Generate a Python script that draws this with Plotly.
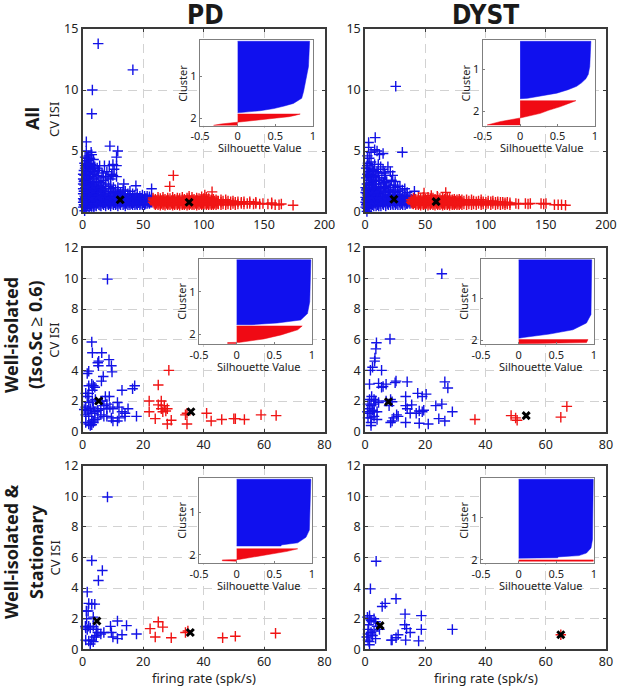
import plotly.graph_objects as go

W, H = 617, 687
OX, OY = 0, 0

# ---------- data: scatter panels (firing rate, CV ISI) ----------
PD_ALL_BLUE_COLS = {
 0.4:[.4,.8,1.1,1.5,1.9,2.3,2.7,3.1], 1.0:[.6,1.0,1.7,2.5], 1.6:[.1,.5,.9,1.3,1.7,2.2,2.6,3.0], 2.2:[.45,1.2,2.0], 2.9:[.3,.7,1.0,1.4,1.8,2.1,2.5,2.9,3.3],
 3.6:[.5,.85,1.6,2.3], 4.2:[.6,1.2,1.6,2.0,2.7], 5.3:[.4,.8,1.2,1.6,2.0,2.4,2.8,3.2], 6.0:[.6,1.0,1.8], 6.7:[.5,.9,1.3,1.7,2.1,2.5,2.9], 7.4:[.45,1.15,1.9], 8.1:[.7,1.1,1.5,2.2],
 8.7:[.5,.9,1.3], 9.3:[.4,.7,1.1,1.5,1.9,2.3,2.7], 10.2:[.55,1.0,1.7], 11.2:[.5,.9,1.2,1.6,2.0,2.4,2.8], 12.4:[.7,1.4,1.9], 13.4:[.6,1.0,1.4,1.8,2.2,2.5],
 14.3:[.55,1.1], 15.1:[.5,.8,1.2,1.6,2.0,2.4], 16.2:[.7,1.1,1.8], 17.3:[.6,1.0,1.3,1.7,2.1,2.6], 18.2:[.75,1.4], 19.0:[.5,.9,1.2,1.5,1.9,2.3],
 20.2:[.7,1.3], 21.3:[.6,.9,1.3,1.7,2.1], 22.2:[.7,1.0], 23.1:[.5,.8,1.1,1.5,1.9,2.2], 24.2:[.7,1.2], 25.4:[.6,1.0,1.3,1.6,2.0], 26.3:[.75,1.15],
 27.2:[.6,.9,1.2,1.5,1.8], 28.3:[.7,1.1], 29.1:[.5,.8,1.1,1.4,1.7,2.0], 30.2:[.7,1.0], 31.3:[.6,.9,1.2,1.6], 32.2:[.8,1.3],
 33.4:[.6,.9,1.2,1.5,1.8], 34.3:[.7,1.05], 35.2:[.5,.8,1.1,1.4,1.7], 36.3:[.7,1.0], 37.4:[.6,.9,1.2,1.5], 38.3:[.75,1.05], 39.1:[.6,.8,1.1,1.4,1.7],
 40.2:[.7,1.0], 41.3:[.6,.9,1.2,1.5], 42.2:[.75,1.05], 43.2:[.6,.8,1.1,1.4], 44.3:[.7,1.0], 45.1:[.6,.9,1.2,1.5], 46.2:[.75,1.05], 47.3:[.6,.8,1.0,1.3],
 48.2:[.7,1.1], 49.4:[.6,.9,1.1,1.4], 50.3:[.75,1.0], 51.2:[.6,.8,1.0,1.3], 52.1:[.7,1.1], 53.3:[.7,.9,1.1,1.3], 54.2:[.8,1.0], 55.2:[.7,.9,1.1,1.25],
 56.1:[.8,1.0], 57.1:[.8,.95,1.1],
}
PD_ALL_BLUE_EXTRA = [(12.8,13.8),(41.5,11.65),(8,10),(7.5,8.05),(3,5.75),(22.5,5.4),(29,5),(28,4.5),(3,5),(7,4.9),
 (2,4.5),(5,4.6),(7.5,4.7),(9,4.3),(2,3.8),(18,3.8),(22,3.8),(28,3.8),(25,3.9),(26,3.5),(5,3.7),(6,3.3),(10,3.3),
 (16,3.2),(24,3.1),(34,2.3),(44,2.15),(57,1.9),
 (1,3.4),(2,3.6),(3,3.7),(4,3.9),(5,4.2),(6,4.4),(6,4),(7,3.9),(8,3.6),(9,3.8),(3,4.2),(4,4.4),(1.5,4.0),(6.5,3.2),(8,3.1),
 (12,3),(13,3.4),(14,3.8),(20,3.3),(17,2.9),(21,2.9),(23,2.7),(25,3),(28,2.9),(12,3.6),(19,2.8),(7,3.5),(10,3.7)]
PD_ALL_RED_COLS = {
 58.2:[.8,1.0,1.15], 59.2:[.7,.95], 60.1:[.6,.85,1.05], 61.2:[.7,.95], 62.3:[.6,.8,1.0,1.2], 63.2:[.7,.95], 64.2:[.55,.85,1.1], 65.3:[.7,.95], 66.4:[.6,.8,1.0,1.2], 67.2:[.7,.95], 68.1:[.55,.85,1.05], 69.2:[.7,.95],
 70.3:[.6,.8,1.0,1.15], 71.2:[.7,.95], 72.2:[.6,.85,1.1], 73.3:[.7,.95], 74.4:[.55,.8,1.0,1.2], 75.2:[.7,.95], 76.1:[.6,.85,1.05], 77.2:[.7,.95], 78.3:[.6,.8,1.0,1.15], 79.2:[.7,.95], 80.2:[.55,.85,1.1], 81.3:[.7,.95],
 82.4:[.6,.8,1.0,1.2], 83.2:[.7,.95], 84.1:[.6,.85,1.05], 85.2:[.7,.95], 86.3:[.55,.8,1.0,1.15], 87.2:[.7,.95], 88.2:[.6,.85,1.1], 89.3:[.7,.95], 90.4:[.6,.8,1.0,1.2], 91.2:[.7,.95], 92.1:[.6,.85,1.05], 93.2:[.7,.95],
 94.3:[.55,.8,1.0,1.15], 95.2:[.7,.95], 96.2:[.6,.85,1.1], 97.3:[.7,.95], 98.4:[.6,.8,1.0,1.25], 99.2:[.7,.95], 100.1:[.6,.85,1.1], 101.2:[.7,.95], 102.3:[.6,.8,1.0,1.2], 103.2:[.7,.95], 104.2:[.6,.85,1.1], 105.3:[.7,.95],
 106.4:[.6,.8,1.0], 107.2:[.7,.9], 108.1:[.6,.85,1.05], 109.2:[.7,.9], 110.3:[.6,.8,1.0], 111.2:[.7,.9], 112.2:[.65,.9], 114.4:[.6,.8,1.0], 116.1:[.65,.9], 118.3:[.6,.8,1.0],
 120.2:[.65,.9], 122.4:[.6,.85], 124.3:[.7,.9], 126.2:[.6,.8], 128.4:[.65,.85], 131.2:[.7,.8], 133.4:[.65,.85], 136.1:[.7],
 138.2:[.7,.85], 141.3:[.65], 143.2:[.7,.8], 146.4:[.65], 149.1:[.7], 153.2:[.65], 156.3:[.65,.75], 159.2:[.6], 162.4:[.6],
 164.3:[.65],
}
PD_ALL_RED_EXTRA = [(75,3),(72,2.1),(107,1.65),(174,.55),(101,1.4),(88,1.3)]
PD_ALL_BLACK = [(31,1.0),(88,.8)]

DY_ALL_BLUE_COLS = {
 0.5:[.4,.8,1.2,1.6,2.0], 1.1:[.6,1.0,1.8], 1.6:[0.05,.3,.7,1.1,1.5,1.9,2.3], 2.2:[.5,.95,1.35], 2.8:[.4,.8,1.2,1.6,2.0,2.6,3.0], 3.4:[.6,1.0,1.8], 3.9:[.5,.9,1.3,1.7,2.2],
 4.5:[.75,1.15], 5.1:[.4,.7,1.1,1.5,1.9,2.4,2.8], 6.2:[.6,1.0,1.4,1.8], 7.3:[.5,.8,1.2,1.6,2.0,2.5,2.9], 8.4:[.7,1.1,1.5,1.9],
 9.2:[.5,.9,1.3,1.7,2.1,2.6], 10.3:[.6,1.0,1.5], 11.4:[.5,.8,1.2,1.6,2.0,2.8], 12.5:[.7,1.1,1.7], 13.2:[.5,.9,1.3,1.8,2.3],
 14.6:[.7,1.2], 15.3:[.6,1.0,1.4,1.9,2.4], 16.4:[.8,1.6], 17.2:[.5,.9,1.3,1.7,2.1], 18.5:[.7,1.1], 19.3:[.6,1.0,1.4,1.8],
 20.4:[.8,1.3], 21.2:[.6,.9,1.3,1.7,2.0], 22.6:[.7,1.1], 23.3:[.6,1.0,1.4,1.8], 24.5:[.8,1.2], 25.2:[.6,.9,1.3,1.6,2.0],
 26.4:[.7,1.1], 27.3:[.6,1.0,1.4,1.7], 28.5:[.8,1.2], 29.2:[.6,.9,1.3], 30.4:[.7,1.1], 31.3:[.6,1.0,1.4], 32.5:[.8,1.2],
 33.3:[.6,.9,1.3], 34.6:[.7,1.1], 35.2:[.7,1.0,1.3], 36.4:[.8,1.1], 37.3:[.7,.95,1.2], 38.4:[.8,1.05], 39.5:[.8,1.0],
}
DY_ALL_BLUE_EXTRA = [(25.5,10.3),(8.5,6.1),(3,5.7),(3,5.3),(8,5.1),(10,5),(5,4.9),(12,4.7),(15,4.8),(31,4.9),(2,4.6),
 (3.5,4.4),(2.5,4),(5,4.1),(8,3.9),(11,3.9),(13,3.7),(19,3.7),(15,3.5),(21,3.3),(6,3.5),(10,3.3),(4,3.6),(23,3),
 (25,2.5),(29,2.1),(33,1.9),(41,1.7),
 (1,2.8),(2,3.1),(3,3.3),(4,2.9),(5,3.1),(6,2.6),(9,3.0),(12,2.6),(14,2.8),(16,2.4),(18,2.5),(1,3.6),(2,3.8),(7,3.4),
 (11,3.2),(17,3),(22,2.6),(16,3.2),(24,2.2),(27,2.1),(31,1.8),(35,1.6),(20,2.2),(3,2.2),(6,2.2),(9,2.3)]
DY_ALL_RED_COLS = {
 38.3:[.8,1.0], 39.2:[.7,.9], 40.2:[.65,.9,1.15], 41.2:[.75,1.0], 42.1:[.6,.85,1.05], 43.2:[.7,.95], 44.3:[.6,.8,1.0,1.2], 45.2:[.7,.95], 46.2:[.55,.85,1.1], 47.3:[.7,.95], 48.4:[.6,.8,1.0,1.2], 49.2:[.7,.95],
 50.1:[.6,.85,1.05], 51.2:[.7,.95], 52.3:[.55,.8,1.0,1.2], 53.2:[.7,.95], 54.2:[.6,.85,1.1], 55.3:[.7,.95], 56.4:[.6,.8,1.0,1.15], 57.2:[.7,.95], 58.1:[.55,.85,1.05], 59.2:[.7,.95], 60.3:[.6,.8,1.0,1.2], 61.2:[.7,.95],
 62.2:[.6,.85,1.1], 63.3:[.7,.95], 64.4:[.55,.8,1.0,1.15], 65.2:[.7,.95], 66.1:[.6,.85,1.05], 67.2:[.7,.95], 68.3:[.6,.8,1.0,1.2], 69.2:[.7,.95], 70.2:[.55,.85,1.1], 71.3:[.7,.95], 72.4:[.6,.8,1.0], 73.2:[.7,.9],
 74.1:[.6,.85,1.05], 75.2:[.7,.9], 76.3:[.6,.8,1.0], 77.2:[.7,.9], 78.2:[.6,.85,1.05], 79.3:[.7,.9], 80.4:[.6,.8,1.0], 82.1:[.65,.9], 84.3:[.6,.8,1.0], 86.2:[.65,.9],
 88.4:[.6,.8,1.0], 90.1:[.65,.9], 92.3:[.6,.85], 94.2:[.7,.9], 96.4:[.6,.8,1.0], 98.1:[.65,.85], 100.3:[.6,.8], 102.2:[.7,.9],
 104.4:[.6,.85], 106.1:[.7,.9], 108.3:[.6,.8], 110.2:[.65,.85], 112.4:[.6,.8], 114.3:[.65,.8], 116.2:[.6,.75], 118.1:[.65,.8],
 120.3:[.6,.75], 125.2:[.7], 127.4:[.65], 133.1:[.7], 135.3:[.65], 137.2:[.7], 146.1:[.7], 148.3:[.65], 150.2:[.7],
 157.2:[.6], 160.3:[.6], 163.1:[.6], 166.4:[.55],
}
DY_ALL_RED_EXTRA = [(49,1.55),(67,1.6),(60,1.3),(55,1.35)]
DY_ALL_BLACK = [(24,1.05),(59,.85)]

PD_ISO_BLUE = [(8.2,9.95),(3,5.85),(3.2,5.15),(6.3,5.15),(5.3,4.6),(5.0,4.5),(5.2,4.3),(8.7,4.7),(9.5,4.3),(9.7,3.9),
 (1.5,3.8),(2.0,3.95),(6.8,3.6),(6.2,3.3),(3,3.1),(3.5,3.0),(2.0,3.0),(4,2.9),(3.2,2.7),(1,2.5),(2,2.5),(1.5,2.3),
 (13,2.7),(16.5,2.8),(17.2,3.0),(7.5,2.3),(8.8,2.3),(6.5,2.0),(4.2,2.1),(3.2,2),(2,1.9),(1,1.6),(.5,1.45),(1.5,1.4),
 (2.5,1.5),(3.5,1.6),(4,1.3),(5,1.4),(6,1.5),(7,1.7),(8,1.8),(9,1.6),(10,1.5),(11.5,1.9),(12,1.6),(13,1.3),(14,1.2),
 (15,1.5),(14,1.0),(17.8,1.0),(12,.9),(11.5,.7),(10,.7),(9.5,.9),(8,1.0),(7,1.0),(6,1.1),(5,.9),(4,.8),(3.5,.6),
 (3,.45),(2.5,.4),(2,.5),(3,.7),(1,.6),(2,1.0),(3,1.2),(1,1.1),(8,1.5)]
PD_ISO_RED = [(28.5,4.0),(25,3.05),(22,2.0),(26,2.0),(25,1.75),(27,1.7),(26,1.5),(28,1.5),(22,1.3),(26.5,1.3),(27.5,1.35),
 (24,.85),(29.3,.75),(28,.5),(34.5,.5),(34,1.1),(34.5,1.2),(41,1.2),(42.5,.7),(46,.8),(50,.85),(50.5,.85),(53.5,.8),
 (59,1.1),(64,1.05)]
PD_ISO_BLACK = [(5.3,2.0),(35.8,1.3)]

DY_ISO_BLUE = [(25.5,10.3),(8.3,6.05),(3.8,5.8),(3.6,5.4),(3.3,4.8),(3.2,4.6),(2.5,4.2),(1.8,4.0),(5.5,4.0),(1.5,3.1),
 (4.5,3.15),(5.5,2.9),(6,2.95),(7,3.1),(10,3.2),(10.3,3.3),(14,3.25),(26.5,3.25),(27.5,2.85),(17.5,2.5),(19,2.3),
 (20.3,2.45),(13.5,2.3),(8.5,2.1),(9,1.95),(1.5,2.1),(2.2,2.3),(3,2.1),(3.5,2),(4.5,1.9),(1,1.8),(2,1.7),(3,1.8),
 (1.5,1.5),(2.5,1.4),(.8,1.3),(1.6,1.2),(3,1.3),(4,1.3),(1,.9),(2,.9),(3,1),(4,.8),(2,.6),(2,.4),(10.5,1.1),(11,1),
 (9.5,.9),(9,.7),(8.5,.6),(13.5,.6),(14,1.5),(13.5,1.7),(15.5,1.75),(15,1.2),(17,1.2),(18,1.35),(19,1.3),(19.5,1.4),
 (23.5,1.7),(25.5,1.8),(29,1.3),(24.5,.85),(26.5,.7),(18,.55),(21,.5),(8,1.7),(7,2)]
DY_ISO_RED = [(36.5,.8),(48.5,1.05),(50,.9),(50.5,.75),(65,.95),(67,1.65)]
DY_ISO_BLACK = [(7.8,1.95),(53.5,1.05)]

PD_ST_BLUE = [(8.2,9.95),(3,5.8),(6.5,5.15),(5.2,4.5),(1.5,3.75),(2,3),(3,2.95),(4,2.95),(1.2,2.5),(1.8,2.5),(3.5,2.1),
 (1.3,2),(.9,1.5),(1,1.4),(1.5,1.3),(2,1.5),(2.5,1.4),(3.5,1.5),(4.5,1.3),(5,1.1),(6,1.0),(7,1.1),(9.2,1.5),(9.5,1.1),
 (11.5,1.85),(10,.8),(11.5,.7),(13,.95),(14.5,1.55),(17.8,1.0),(1,.6),(2,.55),(3,.6),(2.5,.35),(3.5,.5),(4,.8),(4.5,.9)]
PD_ST_RED = [(25,1.8),(26.5,1.45),(22.3,1.35),(24,.8),(29.3,.75),(34,1.1),(34.8,1.2),(46.3,.75),(50.5,.85),(63.8,1.05)]
PD_ST_BLACK = [(4.7,1.85),(35.6,1.1)]

DY_ST_BLUE = [(3.7,5.75),(1.8,3.95),(10.3,3.3),(6.7,3.0),(5.7,2.8),(13.3,2.3),(18.7,2.2),(13.2,1.6),(13.8,1.35),(15,1.1),
 (18.7,1.3),(29,1.3),(11,.95),(10.3,.75),(9,.6),(8.7,.6),(13.5,.6),(17.8,.55),(.6,.8),(1,.6),(1.4,.5),(1.5,.3),(.8,2.1),
 (1.5,2.2),(1.5,2.0),(2,1.9),(3,2),(3.5,1.8),(4,1.5),(4.8,1.3),(1.2,1.6),(1,1.3),(2,1.1),(3,1.2),(2.5,.9),(3.5,.7),(1,1.0)]
DY_ST_RED = [(65,.95)]
DY_ST_BLACK = [(5,1.55),(65,.95)]

# ---------- data: silhouette insets (rank position in %, silhouette value) ----------
SIL = {
 "pd_all": dict(blue=[(1.5,0),(1.5,.955),(31,.94),(50,.9),(60,.875),(68,.85),(71,.8),(74,.74),(77,.62),(80,.48),(82.5,.3),(84,.15),(85,0)],
                red=[(86.4,0),(86.4,.83),(88,.76),(89.5,.68),(91,.52),(92.6,.33),(95.3,0),(98,-.22),(99.6,-.32),(99.6,0)], ticks=[42.4,91.4]),
 "dy_all": dict(blue=[(1.5,0),(1.5,.945),(31,.93),(40,.91),(45,.88),(50,.82),(54,.755),(58,.64),(62,.49),(65,.3),(68,.1),(68.5,0)],
                red=[(70.8,0),(70.8,.745),(74,.65),(78,.53),(82,.38),(85.6,.27),(91,0),(95.3,-.27),(99.2,-.44),(99.2,0)], ticks=[33.9,82.9]),
 "pd_iso": dict(blue=[(1,0),(1,.985),(50,.97),(64,.94),(71.5,.85),(75,.54),(77,.2),(77,0)],
                red=[(78.5,0),(78.5,.87),(83,.81),(89,.59),(93.7,.36),(97.6,.05),(98,-.12),(99,-.12),(99,0)], ticks=[38.3,88.3]),
 "dy_iso": dict(blue=[(1,0),(1,.97),(65,.96),(75,.9),(83,.72),(88,.41),(92,.06),(93,0)],
                red=[(94.5,0),(94.5,.92),(98,.9),(99,.4),(99.5,0)], ticks=[46,95]),
 "pd_st": dict(blue=[(1.5,0),(1.5,.985),(61,.965),(69.5,.92),(76,.81),(78.5,.59),(79.7,.59),(79.7,0)],
               red=[(83,0),(83,.81),(86,.67),(90,.41),(94,.1),(95.5,.03),(96,-.19),(97,-.19),(97.5,0)], ticks=[40,90]),
 "dy_st": dict(blue=[(1.5,0),(1.5,.99),(72,.98),(82,.96),(88,.9),(91,.8),(92.5,.52),(93.5,.52),(94,0)],
               red=[(96,0),(96,.99),(97.5,.99),(97.5,0)], ticks=[46.5,96]),
}

TICK_X_ALL = [0,50,100,150,200]
TICK_Y_ALL = [0,5,10,15]
TICK_X_SUB = [0,20,40,60,80]
TICK_Y_SUB = [0,2,4,6,8,10,12]

def expand(cols, extra):
    out = [(x, y) for x, ys in cols.items() for y in ys]
    return out + extra

PANELS = [
 dict(key="pd_all", blue=expand(PD_ALL_BLUE_COLS, PD_ALL_BLUE_EXTRA), red=expand(PD_ALL_RED_COLS, PD_ALL_RED_EXTRA), black=PD_ALL_BLACK,
      box=(82.7,324.5,29,212), inset=(200,313,40,125.7), xr=200, yr=15, xt=TICK_X_ALL, yt=TICK_Y_ALL, ylab=True, xlab=False),
 dict(key="dy_all", blue=expand(DY_ALL_BLUE_COLS, DY_ALL_BLUE_EXTRA), red=expand(DY_ALL_RED_COLS, DY_ALL_RED_EXTRA), black=DY_ALL_BLACK,
      box=(365,606,29,212), inset=(482.7,595,40,125.7), xr=200, yr=15, xt=TICK_X_ALL, yt=TICK_Y_ALL, ylab=False, xlab=False),
 dict(key="pd_iso", blue=PD_ISO_BLUE, red=PD_ISO_RED, black=PD_ISO_BLACK,
      box=(82.7,324.5,247.7,431.7), inset=(199,312,259,344.3), xr=80, yr=12, xt=TICK_X_SUB, yt=TICK_Y_SUB, ylab=True, xlab=False),
 dict(key="dy_iso", blue=DY_ISO_BLUE, red=DY_ISO_RED, black=DY_ISO_BLACK,
      box=(365,606,247.7,431.7), inset=(481,594,259,344.3), xr=80, yr=12, xt=TICK_X_SUB, yt=TICK_Y_SUB, ylab=False, xlab=False),
 dict(key="pd_st", blue=PD_ST_BLUE, red=PD_ST_RED, black=PD_ST_BLACK,
      box=(82.7,324.5,465.7,649.3), inset=(199,312,478,563.3), xr=80, yr=12, xt=TICK_X_SUB, yt=TICK_Y_SUB, ylab=True, xlab=True),
 dict(key="dy_st", blue=DY_ST_BLUE, red=DY_ST_RED, black=DY_ST_BLACK,
      box=(365,606,465.7,649.3), inset=(481,594,478,563.3), xr=80, yr=12, xt=TICK_X_SUB, yt=TICK_Y_SUB, ylab=False, xlab=True),
]

BLUE, RED = "#1212e6", "#f01414"
FRAME, TXT = "#3a3a3a", "#222222"
FONT = "Noto Sans"

def fx(px): return (px + OX) / W
def fy(py): return 1 - (py + OY) / H

def note(text, x, y, size, angle=0, family=FONT, bold=True, color="#1a1a1a"):
    return dict(text=f"<b>{text}</b>" if bold else text, x=fx(x), y=fy(y), xref="paper", yref="paper", showarrow=False,
                textangle=angle, font=dict(family=family, size=size, color=color), xanchor="center", yanchor="middle")

fig = go.Figure()
layout = {}
annotations = []
n = 0
GRID = dict(showgrid=True, gridcolor="#d2d2d2", griddash="9px,6px", gridwidth=1.3)
for p in PANELS:
    n += 1
    xa, ya = f"x{n}", f"y{n}"
    l, r, t, b = p["box"]
    layout[f"xaxis{n}"] = dict(GRID, domain=[fx(l), fx(r)], range=[0, p["xr"]], anchor=ya, tickvals=p["xt"], ticks="inside", ticklen=3, automargin=False,
        tickcolor=FRAME, showline=True, linecolor=FRAME, linewidth=1.6, mirror="ticks",
        zeroline=False, tickfont=dict(family=FONT, size=12.5, color=TXT))
    layout[f"yaxis{n}"] = dict(GRID, domain=[fy(b), fy(t)], range=[0, p["yr"]], anchor=xa, tickvals=p["yt"], ticks="inside", ticklen=3, automargin=False,
        tickcolor=FRAME, showline=True, linecolor=FRAME, linewidth=1.6, mirror="ticks",
        zeroline=False, tickfont=dict(family=FONT, size=12.5, color=TXT))
    if p["xlab"]:
        annotations.append(note("firing rate (spk/s)", (l + r) / 2, 678, 13, bold=False, color=TXT))
    if p["ylab"]:
        annotations.append(note("CV ISI", 54, (t + b) / 2 + 0.5 - (1 if n == 1 else -0.5), 13, -90, bold=False, color=TXT))
    for pts, col in ((p["blue"], BLUE), (p["red"], RED)):
        fig.add_trace(go.Scatter(x=[a for a, _ in pts], y=[c for _, c in pts], mode="markers", xaxis=xa, yaxis=ya, cliponaxis=False,
            showlegend=False, marker=dict(symbol="cross-thin", size=7.5, line=dict(color=col, width=1.4))))
    bk = p["black"]
    fig.add_trace(go.Scatter(x=[a for a, _ in bk], y=[c for _, c in bk], mode="markers", xaxis=xa, yaxis=ya, cliponaxis=False,
        showlegend=False, marker=dict(symbol="x-thin", size=7, line=dict(color="black", width=3))))

for p in PANELS:
    n += 1
    xa, ya = f"x{n}", f"y{n}"
    l, r, t, b = p["inset"]
    s = SIL[p["key"]]
    ax = dict(showline=True, linecolor="#7f7f7f", linewidth=1.4, mirror=True, ticks="inside", ticklen=2, tickcolor="#7f7f7f", automargin=False,
              showgrid=False, zeroline=False, tickfont=dict(family=FONT, size=11, color=TXT))
    layout[f"xaxis{n}"] = dict(ax, domain=[fx(l), fx(r)], range=[-.5, 1], anchor=ya, tickvals=[-.5,0,.5,1], ticktext=["-0.5","0","0.5","1"])
    layout[f"yaxis{n}"] = dict(ax, domain=[fy(b), fy(t)], range=[100, 0], anchor=xa, tickvals=s["ticks"], ticktext=["1","2"])
    annotations.append(note("Silhouette Value", (l + r) / 2 + 3, b + 22, 11, bold=False, color=TXT))
    annotations.append(note("Cluster", l - 17, (t + b) / 2, 11, -90, bold=False, color=TXT))
    for name, col in (("blue", "#1010ee"), ("red", "#f00a14")):
        pts = s[name]
        fig.add_trace(go.Scatter(x=[c for _, c in pts], y=[a for a, _ in pts], mode="lines", fill="tozerox", fillcolor=col,
            xaxis=xa, yaxis=ya, showlegend=False, line=dict(color=col, width=0.5)))

TITLE_FONT = "DejaVu Sans Condensed, Liberation Sans"
annotations += [
    note("PD", 205, 15, 26, family=TITLE_FONT),
    note("DYST", 485, 15, 26, family=TITLE_FONT),
    note("All", 32, 119, 18, -90),
    note("Well-isolated", 11, 335, 18, -90),
    note("(Iso.Sc ≥ 0.6)", 35, 335, 18, -90),
    note("Well-isolated &amp;", 11, 552, 18, -90),
    note("Stationary", 36, 552, 18, -90),
]

fig.update_layout(width=W, height=H, margin=dict(l=0, r=0, t=0, b=0, autoexpand=False), paper_bgcolor="white", plot_bgcolor="white",
                  showlegend=False, annotations=annotations, **layout)
fig.write_html("out.html", config={"displayModeBar": False}, post_script="document.body.style.margin='0';")
